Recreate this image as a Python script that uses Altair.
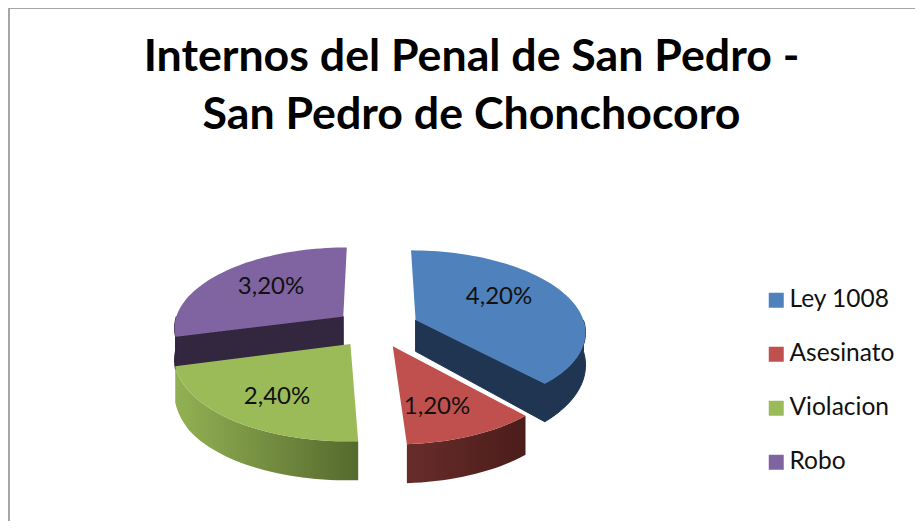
import math
import altair as alt

title_lines = ["Internos del Penal de San Pedro -", "San Pedro de Chonchocoro"]
names = ["Ley 1008", "Asesinato", "Violacion", "Robo"]
values = [4.2, 1.2, 2.4, 3.2]
labels = ["4,20%", "1,20%", "2,40%", "3,20%"]
colors = ["#4F81BD", "#C0504D", "#9BBB59", "#8064A2"]

# Perspective disc model (style constants, pixels in the plot area)
W, H = 907, 513
XC, YC, RX, RY, K, EXPLODE = 367, 320, 170, 80.5, 0.127, 0.24
NUDGE = {"Ley 1008": (0.018, -0.012), "Asesinato": (0.008, 0.0), "Violacion": (0.0, 0.0), "Robo": (0.0, 0.0)}
LABEL_POS = [(491, 289), (429, 399), (269, 388.5), (263, 279)]

total = sum(values)
spans, start = [], 0.0
for v in values:
    spans.append((start, start + v / total * 360))
    start = spans[-1][1]


def project(u, v):
    f = 1 / (1 - K * v)
    depth = min(39, 32 * f * f)
    return XC + RX * u * f, YC + RY * v * f, depth


def point(a, r, du, dv):
    t = math.radians(a)
    return project(du + r * math.sin(t), dv - r * math.cos(t))


def feature(name, ring):
    ring = [[round(x, 2), round(y, 2)] for x, y in ring]
    ring.append(ring[0])
    return {"type": "Feature", "properties": {"name": name},
            "geometry": {"type": "Polygon", "coordinates": [ring]}}


def arc_angles(a, b):
    n = max(2, int((b - a) / 2))
    return [a + (b - a) * i / n for i in range(n + 1)]


tops, outer, cuts = [], {}, {}
for name, (a, b) in zip(names, spans):
    m = math.radians((a + b) / 2)
    du = EXPLODE * math.sin(m) + NUDGE[name][0]
    dv = -EXPLODE * math.cos(m) + NUDGE[name][1]
    apex = point(0, 0, du, dv)
    rim = [point(t, 1, du, dv) for t in arc_angles(a, b)]
    tops.append(feature(name, [apex[:2]] + [p[:2] for p in rim]))
    lo, hi = max(a, 90), min(b, 270)
    if lo < hi:
        pts = [point(t, 1, du, dv) for t in arc_angles(lo, hi)]
        outer[name] = feature(name, [p[:2] for p in pts] +
                              [(p[0], p[1] + p[2]) for p in reversed(pts)])
    if name in ("Ley 1008", "Robo"):
        c = point(b if name == "Ley 1008" else a, 1, du, dv)
        cuts[name] = feature(name, [apex[:2], c[:2], (c[0], c[1] + c[2]),
                                    (apex[0], apex[1] + apex[2])])

PROJ = dict(type="identity", scale=1, translate=[0, 0])


def wall(feat, fill, solid=True):
    if solid:
        mark = alt.Chart(alt.Data(values=[feat])).mark_geoshape(fill=fill, stroke=fill, strokeWidth=1)
    else:
        mark = alt.Chart(alt.Data(values=[feat])).mark_geoshape(fill=fill, strokeWidth=0)
    return mark.project(**PROJ)


def grad(c0, c1):
    return alt.Gradient(gradient="linear", x1=0, x2=1, y1=0, y2=0,
                        stops=[alt.GradientStop(offset=0, color=c0),
                               alt.GradientStop(offset=1, color=c1)])


walls = [
    wall(cuts["Robo"], "#33263F"),
    wall(outer["Robo"], "#33263F"),
    wall(cuts["Ley 1008"], "#1F3552"),
    wall(outer["Ley 1008"], "#1F3552"),
    wall(outer["Violacion"], grad("#93B153", "#556A2E"), solid=False),
    wall(outer["Asesinato"], grad("#672C2A", "#4C1D1B"), solid=False),
]

top_layer = alt.Chart(alt.Data(values=tops)).mark_geoshape(strokeWidth=0).project(**PROJ).encode(
    color=alt.Color("properties.name:N",
                    scale=alt.Scale(domain=names, range=colors),
                    legend=alt.Legend(title=None, orient="none", legendX=756, legendY=280,
                                      symbolType="square", symbolSize=225, symbolStrokeWidth=0,
                                      labelFont="Lato", labelFontSize=24.5, labelColor="#111111",
                                      labelOffset=1, rowPadding=29, symbolOpacity=1))
)

label_rows = [{"t": t, "lon": p[0], "lat": p[1]} for t, p in zip(labels, LABEL_POS)]
text_layer = alt.Chart(alt.Data(values=label_rows)).mark_text(
    font="Lato", fontSize=24, color="#111111", align="center", baseline="middle"
).project(**PROJ).encode(longitude="lon:Q", latitude="lat:Q", text="t:N")

frame_l = alt.Chart(alt.Data(values=[{"a": 1}])).mark_rule(color="#a6a6a6", strokeWidth=2).encode(
    x=alt.value(1), y=alt.value(0), y2=alt.value(H))
frame_t = alt.Chart(alt.Data(values=[{"a": 1}])).mark_rule(color="#a6a6a6", strokeWidth=1).encode(
    y=alt.value(0.5), x=alt.value(0), x2=alt.value(W))

chart = alt.layer(frame_l, frame_t, *walls, top_layer, text_layer).properties(
    width=W, height=H, padding=0, autosize=alt.AutoSizeParams(type="none"),
    title=alt.TitleParams(text=title_lines, font="Lato", fontSize=44.7, fontWeight="bold",
                          color="#000000", anchor="middle", lineHeight=58, dx=10, dy=171, baseline="alphabetic"),
).configure_view(stroke=None)

chart.save("out.html", embed_options={"renderer": "svg", "actions": False})
